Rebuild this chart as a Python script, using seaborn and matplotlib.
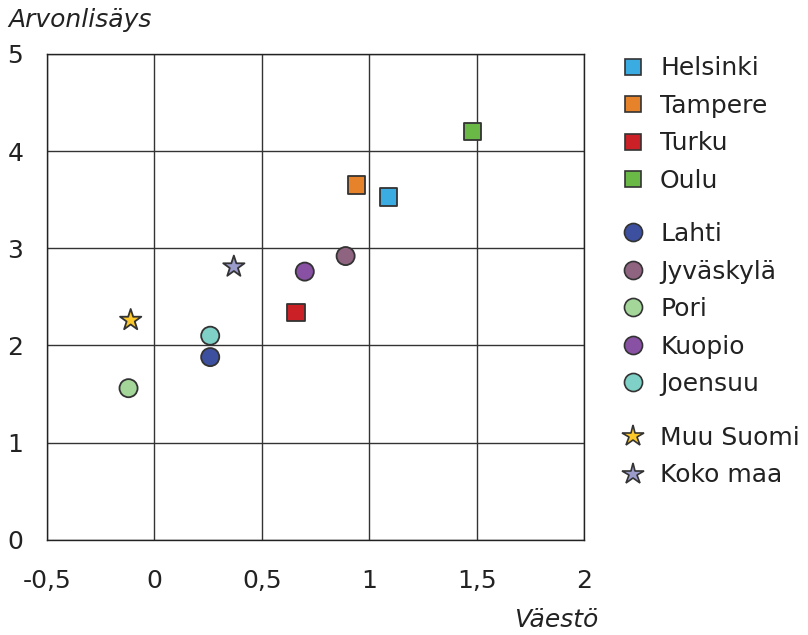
import pandas as pd
import matplotlib.pyplot as plt
import seaborn as sns
from matplotlib.lines import Line2D

# values
names = ['Helsinki', 'Tampere', 'Turku', 'Oulu',
         'Lahti', 'Jyväskylä', 'Pori', 'Kuopio', 'Joensuu',
         'Muu Suomi', 'Koko maa']
vaesto = [1.09, 0.94, 0.66, 1.48, 0.26, 0.89, -0.12, 0.70, 0.26, -0.11, 0.37]
arvonlisays = [3.53, 3.65, 2.34, 4.20, 1.88, 2.92, 1.56, 2.76, 2.10, 2.26, 2.81]
groups = ['big', 'big', 'big', 'big',
          'mid', 'mid', 'mid', 'mid', 'mid',
          'agg', 'agg']
colors = ['#3AACE2', '#E5822A', '#CC2027', '#6AB845',
          '#3D4F9F', '#8E6480', '#A4D69A', '#8851A3', '#7FD1C7',
          '#FDC82A', '#9B9BCC']
x_ticks = [-0.5, 0, 0.5, 1, 1.5, 2]
x_labels = ['-0,5', '0', '0,5', '1', '1,5', '2']
y_ticks = [0, 1, 2, 3, 4, 5]

df = pd.DataFrame({'name': names, 'x': vaesto, 'y': arvonlisays, 'group': groups})
marker_of = {'big': 's', 'mid': 'o', 'agg': '*'}
size_of = {'big': 160, 'mid': 170, 'agg': 260}

sns.set_style('white')
plt.rcParams['font.family'] = ['DejaVu Sans']

fig = plt.figure(figsize=(8.08, 6.35), dpi=100)
ax = fig.add_axes([0.058, 0.15, 0.665, 0.765])

ax.grid(True, color='#333333', linewidth=1)
ax.set_axisbelow(True)

for g in ['big', 'mid', 'agg']:
    sub = df[df.group == g]
    sns.scatterplot(data=sub, x='x', y='y', hue='name',
                    palette=dict(zip(names, colors)), marker=marker_of[g],
                    s=size_of[g], edgecolor='#333333', linewidth=1.3,
                    legend=False, ax=ax, zorder=3)

ax.set_xlim(-0.5, 2)
ax.set_ylim(0, 5)
ax.set_xticks(x_ticks)
ax.set_xticklabels(x_labels)
ax.set_yticks(y_ticks)
ax.tick_params(labelsize=18, length=0, colors='#222222')
ax.tick_params(axis='x', pad=21)
ax.tick_params(axis='y', pad=17)
for sp in ax.spines.values():
    sp.set_color('#222222')
    sp.set_linewidth(1)
ax.set_xlabel('')
ax.set_ylabel('')

fig.text(0.01, 0.968, 'Arvonlisäys', fontsize=18, style='italic', color='#222222', va='center')
fig.text(0.74, 0.023, 'Väestö', fontsize=18, style='italic', color='#222222', va='center', ha='right')

# legend in three blocks
blocks = [(0, 4, 0.927), (4, 9, 0.666), (9, 11, 0.345)]
for start, end, top in blocks:
    handles = []
    for i in range(start, end):
        mk = marker_of[groups[i]]
        ms = {'s': 12, 'o': 13, '*': 16}[mk]
        handles.append(Line2D([], [], linestyle='', marker=mk, markersize=ms,
                              markerfacecolor=colors[i], markeredgecolor='#333333',
                              markeredgewidth=1.2))
    fig.legend(handles, names[start:end], loc='upper left',
               bbox_to_anchor=(0.755, top), frameon=False, fontsize=18,
               handletextpad=0.6, labelspacing=0.54, borderaxespad=0,
               handlelength=1.0, labelcolor='#222222')

fig.savefig('out.png', dpi=100)
